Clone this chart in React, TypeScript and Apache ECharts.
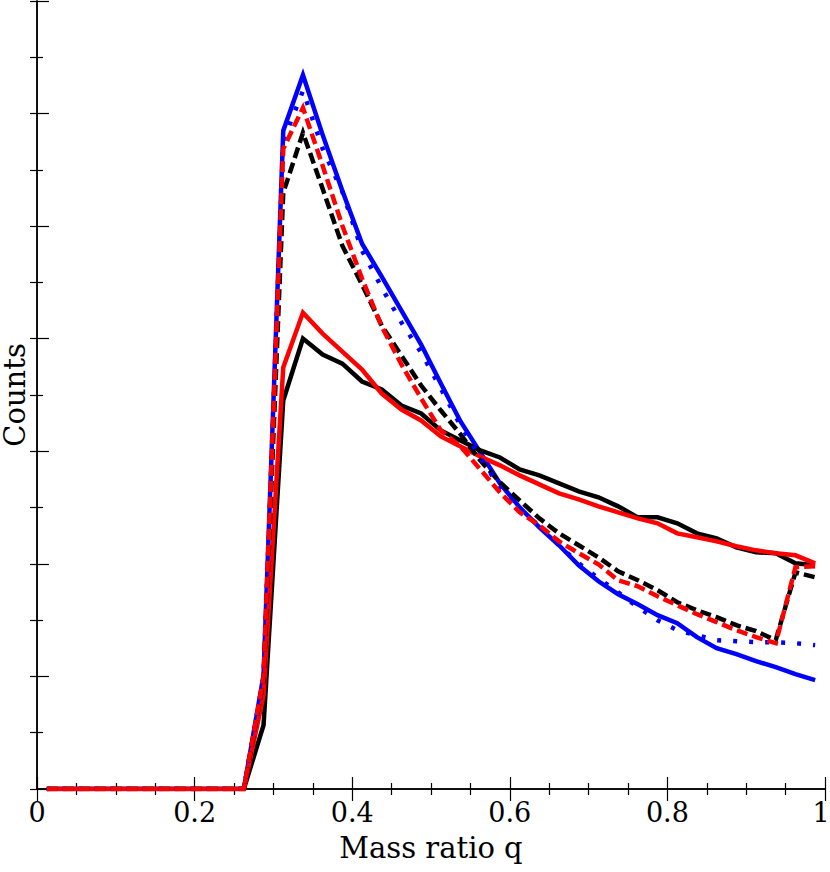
import React, { useEffect, useRef } from "react";
import * as echarts from "echarts";

const qBins = [
  0.0125, 0.0375, 0.0625, 0.0875, 0.1125, 0.1375, 0.1625, 0.1875, 0.2125, 0.2375,
  0.2625, 0.2875, 0.3125, 0.3375, 0.3625, 0.3875, 0.4125, 0.4375, 0.4625, 0.4875,
  0.5125, 0.5375, 0.5625, 0.5875, 0.6125, 0.6375, 0.6625, 0.6875, 0.7125, 0.7375,
  0.7625, 0.7875, 0.8125, 0.8375, 0.8625, 0.8875, 0.9125, 0.9375, 0.9625, 0.9875,
];

const blueSolid = [
  0, 0, 0, 0, 0, 0, 0, 0, 0, 0,
  0, 1011, 5847, 6343, 5811, 5314, 4844, 4551, 4250, 3948,
  3602, 3265, 2990, 2715, 2502, 2324, 2165, 1987, 1845, 1730,
  1641, 1544, 1473, 1349, 1251, 1198, 1136, 1082, 1020, 967,
];

const blueDotted = [
  0, 0, 0, 0, 0, 0, 0, 0, 0, 0,
  0, 994, 5758, 6202, 5687, 5305, 4782, 4454, 4143, 3877,
  3558, 3229, 2945, 2679, 2475, 2342, 2165, 2005, 1872, 1748,
  1615, 1499, 1411, 1366, 1322, 1313, 1304, 1304, 1295, 1278,
];

const redSolid = [
  0, 0, 0, 0, 0, 0, 0, 0, 0, 0,
  0, 834, 3744, 4232, 4046, 3886, 3726, 3513, 3371, 3274,
  3132, 3043, 2954, 2875, 2786, 2706, 2626, 2573, 2511, 2458,
  2404, 2360, 2271, 2236, 2200, 2156, 2120, 2094, 2076, 2005,
];

const redDashed = [
  0, 0, 0, 0, 0, 0, 0, 0, 0, 0,
  0, 994, 5687, 6051, 5536, 5004, 4534, 4108, 3771, 3469,
  3185, 3043, 2839, 2635, 2458, 2342, 2200, 2094, 1996, 1854,
  1801, 1712, 1632, 1553, 1482, 1411, 1349, 1295, 1970, 1978,
];

const blackSolid = [
  0, 0, 0, 0, 0, 0, 0, 0, 0, 0,
  0, 568, 3451, 4001, 3859, 3779, 3620, 3549, 3407, 3336,
  3185, 3096, 3008, 2945, 2839, 2786, 2715, 2644, 2591, 2511,
  2413, 2413, 2360, 2271, 2227, 2147, 2103, 2094, 2005, 1987,
];

const blackDashed = [
  0, 0, 0, 0, 0, 0, 0, 0, 0, 0,
  0, 967, 5297, 5829, 5332, 4826, 4480, 4117, 3850, 3584,
  3362, 3150, 2919, 2724, 2564, 2404, 2271, 2165, 2058, 1934,
  1854, 1766, 1659, 1588, 1526, 1455, 1402, 1322, 1925, 1881,
];

const xTickLabels: Record<string, string> = {
  "0": "0", "0.2": "0.2", "0.4": "0.4", "0.6": "0.6", "0.8": "0.8", "1": "{last|1}",
};

const FONT = "'DejaVu Serif', serif";

function pairs(vals: number[]) {
  return qBins.map((q, i) => [q, vals[i]]);
}

export default function App() {
  const ref = useRef<HTMLDivElement>(null);
  useEffect(() => {
    if (!ref.current) return;
    const chart = echarts.init(ref.current, null, { renderer: "svg" });
    const axisLine = { show: true, lineStyle: { color: "#000", width: 1.5 } };
    const tick = { show: true, inside: true, length: 12, lineStyle: { color: "#000", width: 1.2 } };
    const minor = { show: true, splitNumber: 0, length: 6, lineStyle: { color: "#000", width: 1.2 } };
    const line = (name: string, data: number[], color: string, type: any, z: number) => ({
      name,
      type: "line",
      data: pairs(data),
      showSymbol: false,
      symbol: "none",
      z,
      lineStyle: { color, width: 4.5, type, cap: "butt", join: "miter" },
      emphasis: { disabled: true },
    });
    chart.setOption({
      animation: false,
      grid: { left: 37, right: 5, top: 1, bottom: 83, containLabel: false, outerBoundsMode: "none" },
      xAxis: [
        {
          type: "value",
          min: 0,
          max: 1,
          interval: 0.2,
          position: "bottom",
          name: "Mass ratio q",
          nameLocation: "middle",
          nameGap: 44,
          nameTextStyle: { fontFamily: FONT, fontSize: 29, color: "#000" },
          axisLine,
          axisTick: tick,
          minorTick: { ...minor, splitNumber: 4 },
          splitLine: { show: false },
          axisLabel: {
            show: true,
            margin: 10,
            fontFamily: FONT,
            fontSize: 27,
            color: "#000",
            formatter: (v: number) => xTickLabels[String(Math.round(v * 10) / 10)] ?? "",
            rich: {
              last: { fontFamily: FONT, fontSize: 27, color: "#000", padding: [0, 8, 0, 0] },
            },
          },
        },
        {
          type: "value",
          min: 0,
          max: 1,
          interval: 0.2,
          position: "top",
          axisLine,
          axisTick: tick,
          minorTick: { ...minor, splitNumber: 4 },
          splitLine: { show: false },
          axisLabel: { show: false },
        },
      ],
      yAxis: [
        {
          type: "value",
          min: 0,
          max: 7000,
          interval: 1000,
          position: "left",
          name: "Counts",
          nameLocation: "middle",
          nameGap: 9,
          nameTextStyle: { fontFamily: FONT, fontSize: 29, lineHeight: 27, color: "#000" },
          axisLine,
          axisTick: tick,
          minorTick: { ...minor, splitNumber: 2 },
          splitLine: { show: false },
          axisLabel: { show: false },
        },
        {
          type: "value",
          min: 0,
          max: 7000,
          interval: 1000,
          position: "right",
          axisLine,
          axisTick: { ...tick, length: 7 },
          minorTick: { ...minor, splitNumber: 2, length: 7 },
          splitLine: { show: false },
          axisLabel: { show: false },
        },
      ],
      series: [
        line("Blue solid", blueSolid, "#0000ff", "solid", 2),
        line("Black solid", blackSolid, "#000000", "solid", 3),
        line("Red solid", redSolid, "#ff0000", "solid", 4),
        line("Black dashed", blackDashed, "#000000", [11, 5], 5),
        line("Blue dotted", blueDotted, "#0000ff", [4, 12], 6),
        line("Red dashed", redDashed, "#ff0000", [11, 5], 7),
      ],
    });
    return () => chart.dispose();
  }, []);
  return (
    <div
      ref={ref}
      style={{ position: "absolute", left: 0, top: 0, width: 830, height: 872, background: "#fff" }}
    />
  );
}
